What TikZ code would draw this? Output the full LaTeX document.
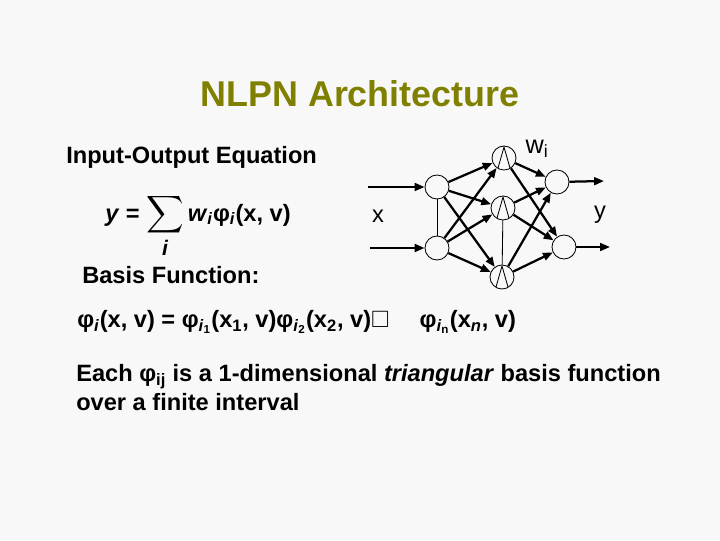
\documentclass[tikz,border=0pt]{standalone}
\usepackage{fontspec}
\setmainfont{Liberation Sans}
\usepackage{amssymb}
\usetikzlibrary{arrows.meta,positioning}
\definecolor{slidebg}{RGB}{248,248,248}
\definecolor{titleolive}{RGB}{128,128,0}

\begin{document}
\begin{tikzpicture}[
    x=0.025cm, y=-0.025cm,
    txt/.style={font=\fontsize{16.8}{20.5}\selectfont, inner sep=0pt},
    neuron/.style={circle, draw, line width=0.6pt, minimum size=0.6cm, inner sep=0pt},
    bump/.style={neuron, path picture={
        \draw[line width=0.6pt] ([shift={(-6,10)}]path picture bounding box.center)
          -- ([shift={(0,-11)}]path picture bounding box.center)
          -- ([shift={(6,10)}]path picture bounding box.center);}},
    link/.style={-{Triangle[length=7pt,width=5.5pt]}, line width=1.6pt}
]
\fill[slidebg] (0,0) rectangle (720,540);

% text part
\node[txt, font=\fontsize{25.5}{30}\selectfont\bfseries, text=titleolive] (title) at (360,94) {NLPN Architecture};
\node[txt, anchor=west] (ioeq) at (66,157) {\bfseries Input-Output Equation};
\node[txt, anchor=base west] (eqsum) at (105,221) {\textbf{\textit{y} = }{\fontsize{18.5}{20}\selectfont$\displaystyle\sum_{\mbox{\raisebox{5pt}{\fontsize{15}{16}\selectfont\textbf{\textit{i}}}}}$}\,\textbf{\textit{w}\textsubscript{\textit{i}}φ\textsubscript{\textit{i}}(x, v)}};
\node[txt, anchor=west] (basis) at (82,275) {\bfseries Basis Function:};
\node[txt, anchor=west] (eqprod) at (77,322) {\textbf{φ\textsubscript{\textit{i}}(x, v) = φ\textsubscript{\textit{i}\textsubscript{1}}(x\textsubscript{1}, v)φ\textsubscript{\textit{i}\textsubscript{2}}(x\textsubscript{2}, v)}$\square$\quad\ \textbf{φ\textsubscript{\textit{i}\textsubscript{n}}(x\textsubscript{\textit{n}}, v)}};
\node[txt, anchor=west, align=left] (each) at (76,387.5) {\bfseries Each φ\textsubscript{ij} is a 1-dimensional \textit{triangular} basis function\\\bfseries over a finite interval};

% network
\node[neuron] (i1) at (437,187) {};
\node[neuron] (i2) at (437,248) {};
\node[bump] (h1) at (504,158) {};
\node[bump] (h2) at (503,208) {};
\node[bump] (h3) at (502,277) {};
\node[neuron] (o1) at (557,182) {};
\node[neuron] (o2) at (564,247) {};

\coordinate (x1) at (368,187);
\coordinate (x2) at (370,248);
\coordinate (y1) at (604,181);
\coordinate (y2) at (610,247);

\node[txt] (xlab) at (378,216) {x};
\node[txt] (ylab) at (600,215) {y};
\node[txt, font=\fontsize{18}{20}\selectfont] (wlab) at (537,149) {w\textsubscript{i}};

\draw[line width=0.6pt] (i1) -- (i2);
\draw[line width=0.6pt] (h2) -- (h3);

\draw[link] (x1) -- (i1);
\draw[link] (x2) -- (i2);
\draw[link] (i1) -- (h1);
\draw[link] (i1) -- (h2);
\draw[link] (i1) -- (h3);
\draw[link] (i2) -- (h1);
\draw[link] (i2) -- (h2);
\draw[link] (i2) -- (h3);
\draw[link] (h1) -- (o1);
\draw[link] (h1) -- (o2);
\draw[link] (h2) -- (o1);
\draw[link] (h2) -- (o2);
\draw[link] (h3) -- (o1);
\draw[link] (h3) -- (o2);
\draw[link] (o1) -- (y1);
\draw[link] (o2) -- (y2);
\end{tikzpicture}
\end{document}
